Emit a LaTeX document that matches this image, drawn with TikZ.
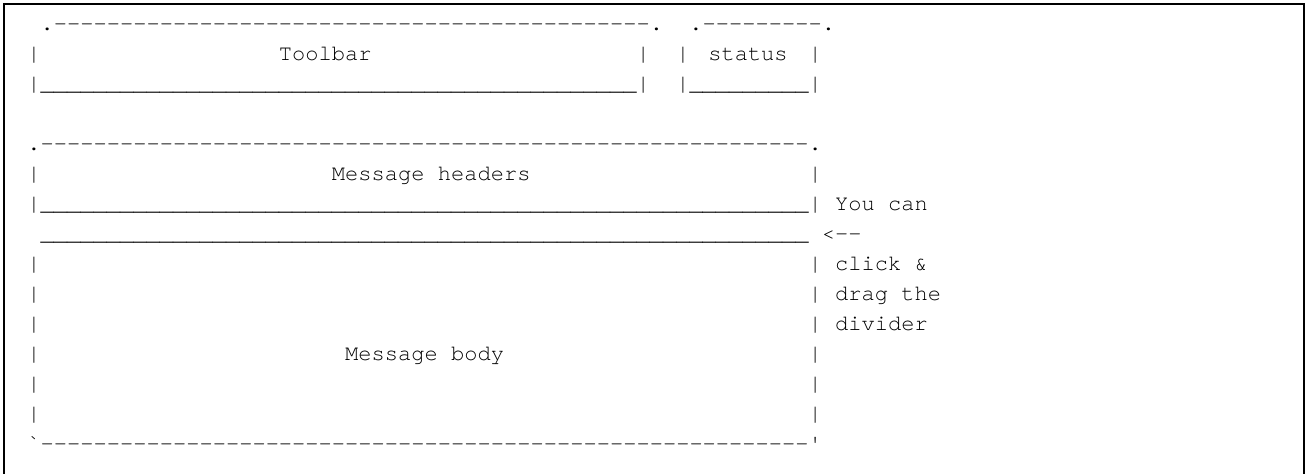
\documentclass[tikz,border=0pt]{standalone}
\usepackage{fontspec}
\setmonofont{TeX Gyre Cursor}
\usetikzlibrary{positioning}
% run of one character, n times
\newcommand{\chrun}[2]{\foreach \k in {1,...,#1}{#2}}

\begin{document}
\begin{tikzpicture}[x=1pt, y=-1pt,
  ascii/.style={anchor=base west, inner sep=0pt, outer sep=0pt,
                font=\ttfamily\fontsize{22.07}{30}\selectfont, text=black},
  label/.style={ascii, anchor=base},
  frame/.style={line width=2pt, draw=black}
]
\useasboundingbox (0,0) rectangle (1307,474);

% Outer frame (open at the bottom)
\draw[frame] (4,474) -- (4,4) -- (1304,4) -- (1304,474);

% Toolbar and status boxes
\node[ascii] (row1) at (27.4, 30) {~.\chrun{45}{-}.~~.\chrun{9}{-}.};
\node[ascii] (row2) at (27.4, 60) {|\chrun{18}{~}Toolbar\chrun{20}{~}|~~|\chrun{9}{~}|};
\node[ascii] (row3) at (27.4, 90) {|\chrun{45}{\_}|~~|\chrun{9}{\_}|};
\node[label] (status) at (748, 60) {status};

% Message headers
\node[ascii] (row5) at (27.4,150) {.\chrun{58}{-}.};
\node[ascii] (row6) at (27.4,180) {|\chrun{22}{~}Message headers\chrun{21}{~}|};
\node[ascii] (row7) at (27.4,210) {|\chrun{58}{\_}|~You can};

% Divider
\node[ascii] (row8) at (27.4,240) {~\chrun{58}{\_}~<--};

% Message body
\node[ascii] (row9)  at (27.4,270) {|\chrun{58}{~}|~click \&};
\node[ascii] (row10) at (27.4,300) {|\chrun{58}{~}|~drag the};
\node[ascii] (row11) at (27.4,330) {|\chrun{58}{~}|~divider};
\node[ascii] (row12) at (27.4,360) {|\chrun{23}{~}Message body\chrun{23}{~}|};
\node[ascii] (row13) at (27.4,390) {|\chrun{58}{~}|};
\node[ascii] (row14) at (27.4,420) {|\chrun{58}{~}|};
\node[ascii] (row15) at (27.4,450) {`\chrun{58}{-}'};
\end{tikzpicture}
\end{document}
